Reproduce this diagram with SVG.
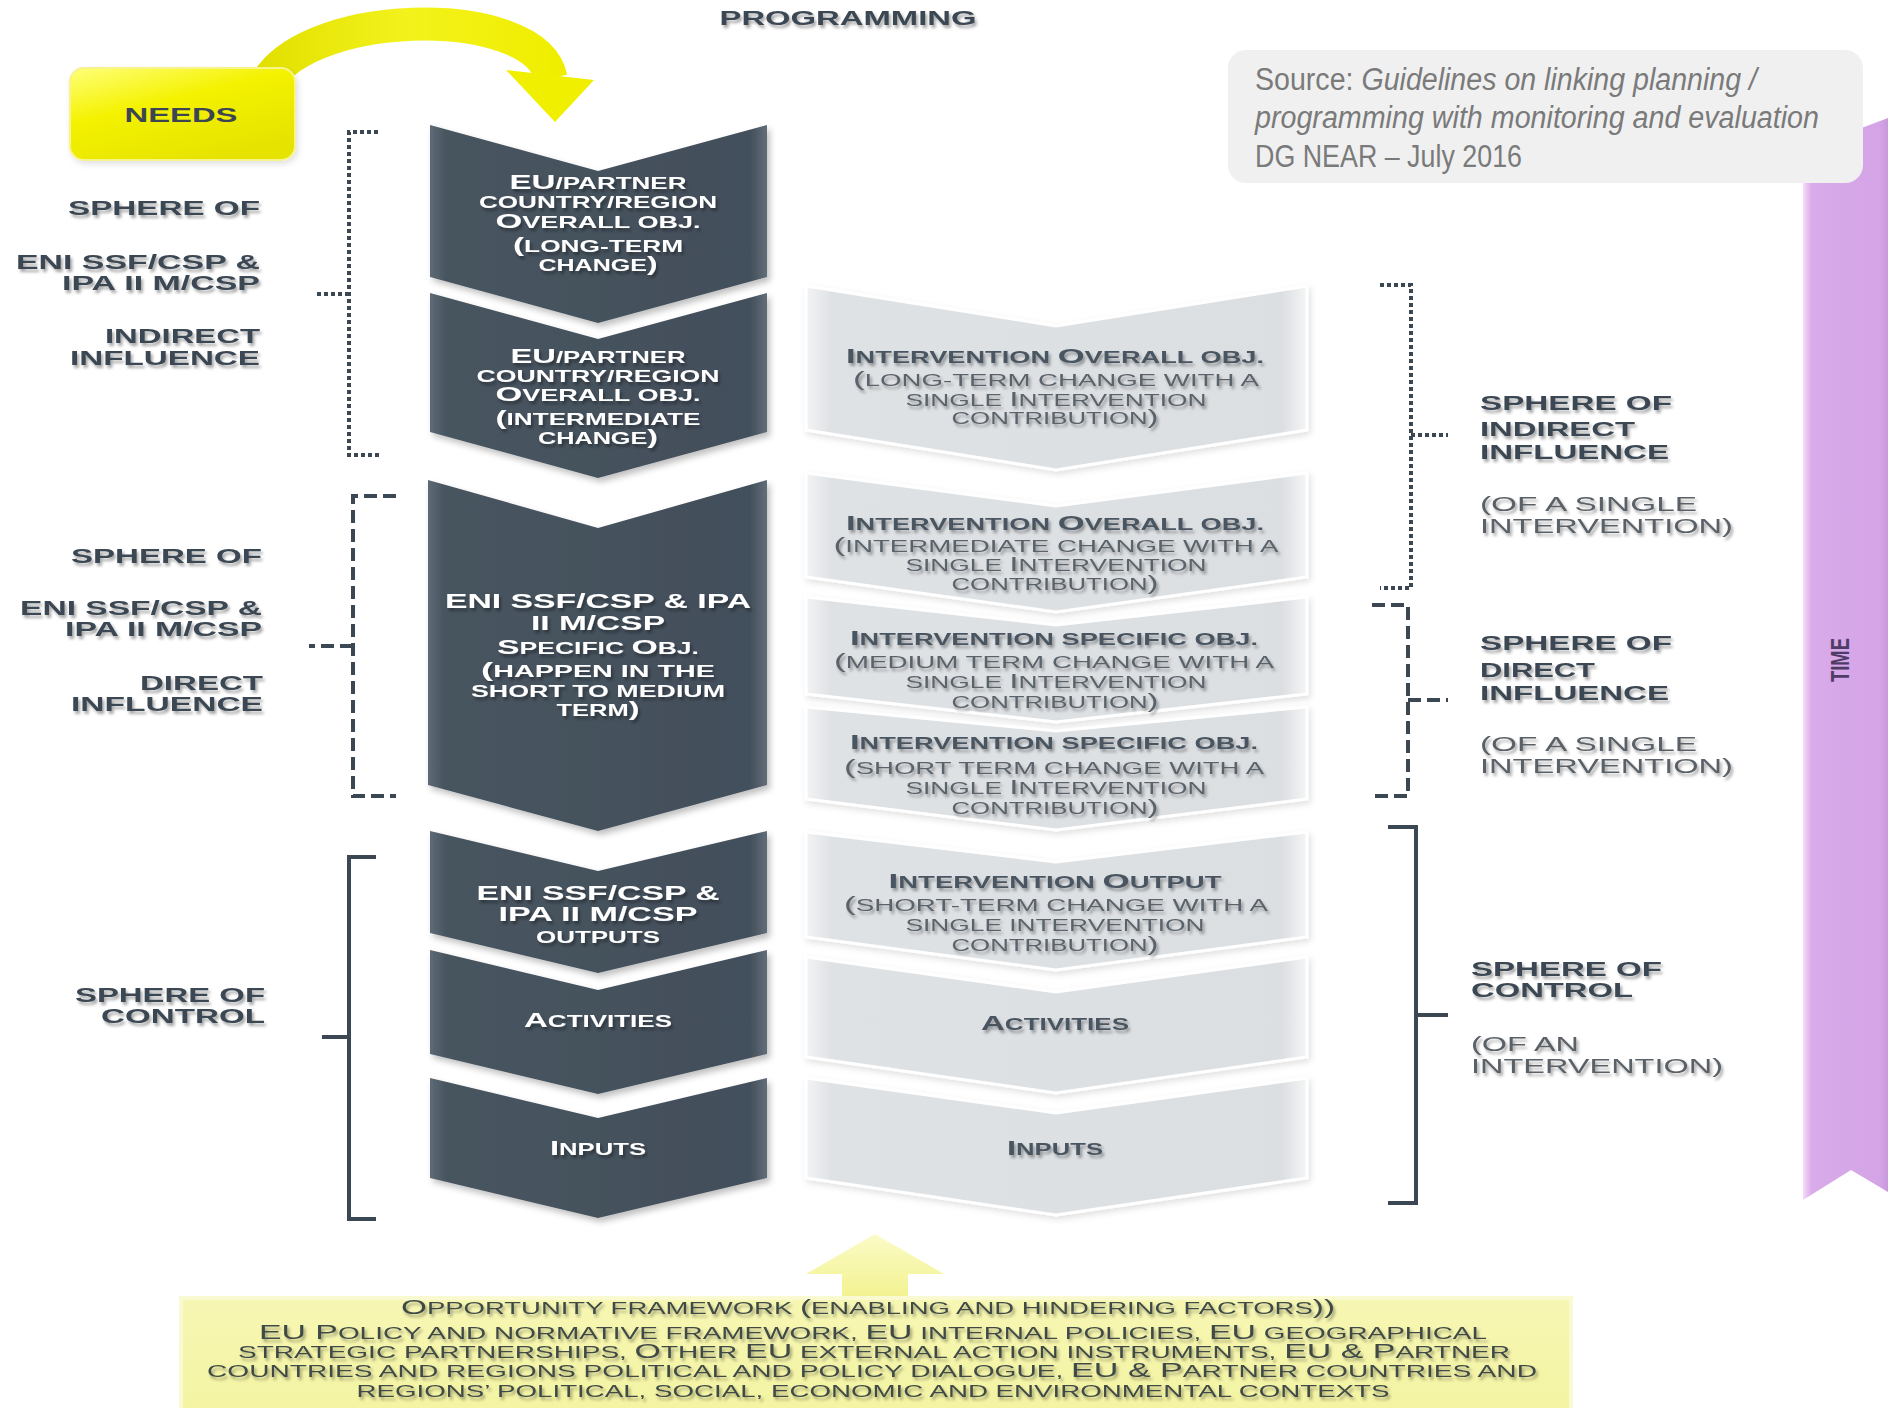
<svg xmlns="http://www.w3.org/2000/svg" width="1888" height="1408" viewBox="0 0 1888 1408">
<style>
text{font-family:"Liberation Sans",Arial,Helvetica,sans-serif;}
.lab{font-weight:bold;font-size:21px;fill:#3b4652;}
.lab.l{text-anchor:end;}
.par{font-weight:normal;font-size:21px;fill:#5a6167;}
.wt{font-weight:bold;font-size:21px;fill:#ffffff;text-anchor:middle;}
.lt{font-weight:bold;font-size:21px;fill:#4a5560;text-anchor:middle;}
.lr{font-weight:normal;font-size:21px;fill:#5a626a;text-anchor:middle;}
.bt{font-weight:normal;font-size:20px;fill:#3f4a45;text-anchor:middle;}
.s{font-size:16.5px;}
.dk{fill:url(#gDark);filter:url(#cs);}
.lg{fill:url(#gLight);stroke:#ffffff;stroke-width:3;filter:url(#cs2);}
.br{fill:none;stroke:#3b4753;stroke-width:4;}
.dot{stroke-dasharray:4 3;}
.dash{stroke-dasharray:13 6;}
</style>
<defs>
<linearGradient id="gDark" x1="0" y1="0" x2="1" y2="0">
<stop offset="0" stop-color="#5e6a76"/><stop offset="0.05" stop-color="#47545f"/><stop offset="0.95" stop-color="#434f5b"/><stop offset="1" stop-color="#626e79"/>
</linearGradient>
<linearGradient id="gLight" x1="0" y1="0" x2="1" y2="0">
<stop offset="0" stop-color="#f2f3f4"/><stop offset="0.05" stop-color="#dfe2e5"/><stop offset="0.95" stop-color="#dcdfe2"/><stop offset="1" stop-color="#f4f5f6"/>
</linearGradient>
<linearGradient id="gNeeds" x1="0" y1="0" x2="0.6" y2="1">
<stop offset="0" stop-color="#ffff7a"/><stop offset="0.45" stop-color="#f4f200"/><stop offset="1" stop-color="#e6e300"/>
</linearGradient>
<linearGradient id="gArc" x1="0" y1="0" x2="1" y2="0">
<stop offset="0" stop-color="#e2e000"/><stop offset="0.5" stop-color="#f3f21c"/><stop offset="1" stop-color="#f0ee00"/>
</linearGradient>
<linearGradient id="gOpp" x1="0" y1="0" x2="0" y2="1">
<stop offset="0" stop-color="#f7f7b4"/><stop offset="1" stop-color="#f3f3a0"/>
</linearGradient>
<linearGradient id="gUp" x1="0" y1="0" x2="0" y2="1">
<stop offset="0" stop-color="#fbfbc8"/><stop offset="1" stop-color="#f2f28e"/>
</linearGradient>
<linearGradient id="gTime" x1="0" y1="0" x2="1" y2="0">
<stop offset="0" stop-color="#f6dcf9"/><stop offset="0.1" stop-color="#d9abea"/><stop offset="0.9" stop-color="#d4a4e6"/><stop offset="1" stop-color="#c99adb"/>
</linearGradient>
<filter id="sh" x="-5%" y="-40%" width="110%" height="180%">
<feGaussianBlur in="SourceAlpha" stdDeviation="1.8"/><feOffset dx="2" dy="3" result="b"/>
<feFlood flood-color="#000" flood-opacity="0.35"/><feComposite in2="b" operator="in"/>
<feMerge><feMergeNode/><feMergeNode in="SourceGraphic"/></feMerge>
</filter>
<filter id="cs" x="-5%" y="-5%" width="112%" height="115%">
<feGaussianBlur in="SourceAlpha" stdDeviation="3"/><feOffset dx="3" dy="4" result="b"/>
<feFlood flood-color="#000" flood-opacity="0.25"/><feComposite in2="b" operator="in"/>
<feMerge><feMergeNode/><feMergeNode in="SourceGraphic"/></feMerge>
</filter>
<filter id="cs2" x="-5%" y="-5%" width="112%" height="115%">
<feGaussianBlur in="SourceAlpha" stdDeviation="3"/><feOffset dx="2" dy="3" result="b"/>
<feFlood flood-color="#000" flood-opacity="0.12"/><feComposite in2="b" operator="in"/>
<feMerge><feMergeNode/><feMergeNode in="SourceGraphic"/></feMerge>
</filter>
</defs>
<rect width="1888" height="1408" fill="#ffffff"/>

<!-- TIME bar -->
<g id="time">
<polygon points="1803,150 1888,118 1888,1192 1851,1170 1803,1200" fill="url(#gTime)"/>
<text transform="translate(1849,660) rotate(-90)" text-anchor="middle" font-weight="bold" font-size="25" fill="#4f3c66" textLength="44" lengthAdjust="spacingAndGlyphs">TIME</text>
</g>

<!-- Source box -->
<g id="source">
<rect x="1228" y="50" width="635" height="133" rx="18" fill="#f0f0f0"/>
<text x="1255" y="90" font-family="Roboto,'Liberation Sans',sans-serif" font-weight="300" font-size="31" fill="#7a7a7a" textLength="502" lengthAdjust="spacingAndGlyphs">Source: <tspan font-style="italic">Guidelines on linking planning /</tspan></text>
<text x="1255" y="128" font-family="Roboto,'Liberation Sans',sans-serif" font-weight="300" font-style="italic" font-size="31" fill="#7a7a7a" textLength="564" lengthAdjust="spacingAndGlyphs">programming with monitoring and evaluation</text>
<text x="1255" y="167" font-family="Roboto,'Liberation Sans',sans-serif" font-weight="300" font-size="31" fill="#7a7a7a" textLength="267" lengthAdjust="spacingAndGlyphs">DG NEAR – July 2016</text>
</g>

<!-- PROGRAMMING title -->
<text id="programming" class="lab" x="848" y="25" text-anchor="middle" fill="#4a4f55" filter="url(#sh)" textLength="257" lengthAdjust="spacingAndGlyphs">PROGRAMMING</text>

<!-- Connectors -->
<g id="connectors">
<path d="M 262 92 C 294 6, 536 2, 551 78" fill="none" stroke="url(#gArc)" stroke-width="33"/>
<polygon points="506,70 594,80 555,122" fill="#f1ef00"/>
<polygon points="806,1274 875,1234 944,1274 908,1274 908,1300 842,1300 842,1274" fill="url(#gUp)"/>
</g>

<!-- NEEDS -->
<g id="needs">
<rect x="70" y="68" width="225" height="92" rx="14" fill="url(#gNeeds)" filter="url(#cs2)" stroke="#f6f48a" stroke-width="2"/>
<text class="lab" x="181" y="122" text-anchor="middle" fill="#3e4a3c" textLength="113" lengthAdjust="spacingAndGlyphs">NEEDS</text>
</g>

<!-- Left labels -->
<g id="left-labels" filter="url(#sh)">
<text class="lab l" x="260" y="215" textLength="192" lengthAdjust="spacingAndGlyphs">SPHERE OF</text>
<text class="lab l" x="260" y="269" textLength="244" lengthAdjust="spacingAndGlyphs">ENI SSF/CSP &amp;</text>
<text class="lab l" x="260" y="290" textLength="198" lengthAdjust="spacingAndGlyphs">IPA II M/CSP</text>
<text class="lab l" x="260" y="343" textLength="155" lengthAdjust="spacingAndGlyphs">INDIRECT</text>
<text class="lab l" x="260" y="365" textLength="190" lengthAdjust="spacingAndGlyphs">INFLUENCE</text>

<text class="lab l" x="262" y="563" textLength="191" lengthAdjust="spacingAndGlyphs">SPHERE OF</text>
<text class="lab l" x="262" y="615" textLength="242" lengthAdjust="spacingAndGlyphs">ENI SSF/CSP &amp;</text>
<text class="lab l" x="262" y="636" textLength="197" lengthAdjust="spacingAndGlyphs">IPA II M/CSP</text>
<text class="lab l" x="263" y="690" textLength="123" lengthAdjust="spacingAndGlyphs">DIRECT</text>
<text class="lab l" x="263" y="711" textLength="192" lengthAdjust="spacingAndGlyphs">INFLUENCE</text>

<text class="lab l" x="265" y="1002" textLength="190" lengthAdjust="spacingAndGlyphs">SPHERE OF</text>
<text class="lab l" x="265" y="1023" textLength="164" lengthAdjust="spacingAndGlyphs">CONTROL</text>
</g>

<!-- Right labels -->
<g id="right-labels" filter="url(#sh)">
<text class="lab" x="1480" y="410" textLength="192" lengthAdjust="spacingAndGlyphs">SPHERE OF</text>
<text class="lab" x="1480" y="436" textLength="155" lengthAdjust="spacingAndGlyphs">INDIRECT</text>
<text class="lab" x="1480" y="459" textLength="189" lengthAdjust="spacingAndGlyphs">INFLUENCE</text>
<text class="par" x="1480" y="511" textLength="217" lengthAdjust="spacingAndGlyphs">(OF A SINGLE</text>
<text class="par" x="1480" y="533" textLength="253" lengthAdjust="spacingAndGlyphs">INTERVENTION)</text>

<text class="lab" x="1480" y="650" textLength="192" lengthAdjust="spacingAndGlyphs">SPHERE OF</text>
<text class="lab" x="1480" y="677" textLength="115" lengthAdjust="spacingAndGlyphs">DIRECT</text>
<text class="lab" x="1480" y="700" textLength="189" lengthAdjust="spacingAndGlyphs">INFLUENCE</text>
<text class="par" x="1480" y="751" textLength="217" lengthAdjust="spacingAndGlyphs">(OF A SINGLE</text>
<text class="par" x="1480" y="773" textLength="253" lengthAdjust="spacingAndGlyphs">INTERVENTION)</text>

<text class="lab" x="1471" y="976" textLength="191" lengthAdjust="spacingAndGlyphs">SPHERE OF</text>
<text class="lab" x="1471" y="997" textLength="162" lengthAdjust="spacingAndGlyphs">CONTROL</text>
<text class="par" x="1471" y="1051" textLength="108" lengthAdjust="spacingAndGlyphs">(OF AN</text>
<text class="par" x="1471" y="1073" textLength="252" lengthAdjust="spacingAndGlyphs">INTERVENTION)</text>
</g>

<!-- Brackets -->
<g id="brackets">
<path class="br dot" d="M 378 132 H 349 V 455 H 380"/>
<path class="br dot" d="M 349 294 H 316"/>
<path class="br dash" d="M 396 496 H 353 V 796 H 396"/>
<path class="br dash" d="M 353 646 H 309"/>
<path class="br" d="M 376 857 H 349 V 1219 H 376"/>
<path class="br" d="M 349 1037 H 322"/>
<path class="br dot" d="M 1380 285 H 1411 V 588 H 1380"/>
<path class="br dot" d="M 1411 435 H 1448"/>
<path class="br dash" d="M 1372 605 H 1408 V 796 H 1372"/>
<path class="br dash" d="M 1408 700 H 1448"/>
<path class="br" d="M 1388 827 H 1416 V 1203 H 1388"/>
<path class="br" d="M 1416 1015 H 1448"/>
</g>

<!-- Dark chevrons (programming) -->
<g id="c1">
<polygon class="dk" points="430,125 598,171 767,125 767,277 598,323 430,277"/>
<g filter="url(#sh)">
<text class="wt" x="598" y="189" textLength="177" lengthAdjust="spacingAndGlyphs">EU<tspan class="s">/PARTNER</tspan></text>
<text class="wt" x="598" y="208" textLength="238" lengthAdjust="spacingAndGlyphs"><tspan class="s">COUNTRY/REGION</tspan></text>
<text class="wt" x="598" y="228" textLength="205" lengthAdjust="spacingAndGlyphs">O<tspan class="s">VERALL OBJ.</tspan></text>
<text class="wt" x="598" y="252" textLength="170" lengthAdjust="spacingAndGlyphs">(<tspan class="s">LONG-TERM</tspan></text>
<text class="wt" x="598" y="271" textLength="119" lengthAdjust="spacingAndGlyphs"><tspan class="s">CHANGE</tspan>)</text>
</g>
</g>
<g id="c2">
<polygon class="dk" points="430,293 598,339 767,293 767,432 598,478 430,432"/>
<g filter="url(#sh)">
<text class="wt" x="598" y="363" textLength="175" lengthAdjust="spacingAndGlyphs">EU<tspan class="s">/PARTNER</tspan></text>
<text class="wt" x="598" y="382" textLength="243" lengthAdjust="spacingAndGlyphs"><tspan class="s">COUNTRY/REGION</tspan></text>
<text class="wt" x="598" y="401" textLength="205" lengthAdjust="spacingAndGlyphs">O<tspan class="s">VERALL OBJ.</tspan></text>
<text class="wt" x="598" y="425" textLength="205" lengthAdjust="spacingAndGlyphs">(<tspan class="s">INTERMEDIATE</tspan></text>
<text class="wt" x="598" y="444" textLength="120" lengthAdjust="spacingAndGlyphs"><tspan class="s">CHANGE</tspan>)</text>
</g>
</g>
<g id="c3">
<polygon class="dk" points="428,480 598,528 767,480 767,785 598,831 428,785"/>
<g filter="url(#sh)">
<text class="wt" x="598" y="608" textLength="306" lengthAdjust="spacingAndGlyphs">ENI SSF/CSP &amp; IPA</text>
<text class="wt" x="598" y="630" textLength="134" lengthAdjust="spacingAndGlyphs">II M/CSP</text>
<text class="wt" x="598" y="654" textLength="202" lengthAdjust="spacingAndGlyphs">S<tspan class="s">PECIFIC </tspan>O<tspan class="s">BJ.</tspan></text>
<text class="wt" x="598" y="677" textLength="234" lengthAdjust="spacingAndGlyphs">(<tspan class="s">HAPPEN IN THE</tspan></text>
<text class="wt" x="598" y="697" textLength="254" lengthAdjust="spacingAndGlyphs"><tspan class="s">SHORT TO MEDIUM</tspan></text>
<text class="wt" x="598" y="716" textLength="83" lengthAdjust="spacingAndGlyphs"><tspan class="s">TERM</tspan>)</text>
</g>
</g>
<g id="c4">
<polygon class="dk" points="430,831 598,871 767,831 767,933 598,973 430,933"/>
<g filter="url(#sh)">
<text class="wt" x="598" y="900" textLength="243" lengthAdjust="spacingAndGlyphs">ENI SSF/CSP &amp;</text>
<text class="wt" x="598" y="921" textLength="199" lengthAdjust="spacingAndGlyphs">IPA II M/CSP</text>
<text class="wt" x="598" y="943" textLength="124" lengthAdjust="spacingAndGlyphs"><tspan class="s">OUTPUTS</tspan></text>
</g>
</g>
<g id="c5">
<polygon class="dk" points="430,950 598,990 767,950 767,1054 598,1094 430,1054"/>
<text class="wt" x="598" y="1027" filter="url(#sh)" textLength="148" lengthAdjust="spacingAndGlyphs">A<tspan class="s">CTIVITIES</tspan></text>
</g>
<g id="c6">
<polygon class="dk" points="430,1078 598,1118 767,1078 767,1178 598,1218 430,1178"/>
<text class="wt" x="598" y="1155" filter="url(#sh)" textLength="96" lengthAdjust="spacingAndGlyphs">I<tspan class="s">NPUTS</tspan></text>
</g>

<!-- Light chevrons (intervention) -->
<g id="l1">
<polygon class="lg" points="806,286 1056,326 1307,286 1307,430 1056,470 806,430"/>
<g filter="url(#sh)">
<text class="lt" x="1055" y="363" textLength="418" lengthAdjust="spacingAndGlyphs">I<tspan class="s">NTERVENTION </tspan>O<tspan class="s">VERALL OBJ.</tspan></text>
<text class="lr" x="1056" y="386" textLength="406" lengthAdjust="spacingAndGlyphs">(<tspan class="s">LONG-TERM CHANGE WITH A</tspan></text>
<text class="lr" x="1056" y="406" textLength="301" lengthAdjust="spacingAndGlyphs"><tspan class="s">SINGLE </tspan>I<tspan class="s">NTERVENTION</tspan></text>
<text class="lr" x="1055" y="424" textLength="207" lengthAdjust="spacingAndGlyphs"><tspan class="s">CONTRIBUTION</tspan>)</text>
</g>
</g>
<g id="l2">
<polygon class="lg" points="806,473 1056,506 1307,473 1307,577 1056,612 806,577"/>
<g filter="url(#sh)">
<text class="lt" x="1055" y="530" textLength="418" lengthAdjust="spacingAndGlyphs">I<tspan class="s">NTERVENTION </tspan>O<tspan class="s">VERALL OBJ.</tspan></text>
<text class="lr" x="1056" y="552" textLength="445" lengthAdjust="spacingAndGlyphs">(<tspan class="s">INTERMEDIATE CHANGE WITH A</tspan></text>
<text class="lr" x="1056" y="571" textLength="301" lengthAdjust="spacingAndGlyphs"><tspan class="s">SINGLE </tspan>I<tspan class="s">NTERVENTION</tspan></text>
<text class="lr" x="1055" y="590" textLength="207" lengthAdjust="spacingAndGlyphs"><tspan class="s">CONTRIBUTION</tspan>)</text>
</g>
</g>
<g id="l3">
<polygon class="lg" points="806,597 1056,625 1307,597 1307,694 1056,722 806,694"/>
<g filter="url(#sh)">
<text class="lt" x="1054" y="645" textLength="408" lengthAdjust="spacingAndGlyphs">I<tspan class="s">NTERVENTION SPECIFIC OBJ.</tspan></text>
<text class="lr" x="1054" y="668" textLength="440" lengthAdjust="spacingAndGlyphs">(<tspan class="s">MEDIUM TERM CHANGE WITH A</tspan></text>
<text class="lr" x="1056" y="688" textLength="301" lengthAdjust="spacingAndGlyphs"><tspan class="s">SINGLE </tspan>I<tspan class="s">NTERVENTION</tspan></text>
<text class="lr" x="1055" y="708" textLength="207" lengthAdjust="spacingAndGlyphs"><tspan class="s">CONTRIBUTION</tspan>)</text>
</g>
</g>
<g id="l4">
<polygon class="lg" points="806,707 1056,731 1307,707 1307,799 1056,830 806,799"/>
<g filter="url(#sh)">
<text class="lt" x="1054" y="749" textLength="408" lengthAdjust="spacingAndGlyphs">I<tspan class="s">NTERVENTION SPECIFIC OBJ.</tspan></text>
<text class="lr" x="1054" y="774" textLength="420" lengthAdjust="spacingAndGlyphs">(<tspan class="s">SHORT TERM CHANGE WITH A</tspan></text>
<text class="lr" x="1056" y="794" textLength="301" lengthAdjust="spacingAndGlyphs"><tspan class="s">SINGLE </tspan>I<tspan class="s">NTERVENTION</tspan></text>
<text class="lr" x="1055" y="814" textLength="207" lengthAdjust="spacingAndGlyphs"><tspan class="s">CONTRIBUTION</tspan>)</text>
</g>
</g>
<g id="l5">
<polygon class="lg" points="806,832 1056,862 1307,832 1307,937 1056,970 806,937"/>
<g filter="url(#sh)">
<text class="lt" x="1055" y="888" textLength="333" lengthAdjust="spacingAndGlyphs">I<tspan class="s">NTERVENTION </tspan>O<tspan class="s">UTPUT</tspan></text>
<text class="lr" x="1056" y="911" textLength="424" lengthAdjust="spacingAndGlyphs">(<tspan class="s">SHORT-TERM CHANGE WITH A</tspan></text>
<text class="lr" x="1055" y="931" textLength="299" lengthAdjust="spacingAndGlyphs"><tspan class="s">SINGLE INTERVENTION</tspan></text>
<text class="lr" x="1055" y="951" textLength="207" lengthAdjust="spacingAndGlyphs"><tspan class="s">CONTRIBUTION</tspan>)</text>
</g>
</g>
<g id="l6">
<polygon class="lg" points="806,957 1056,992 1307,957 1307,1057 1056,1093 806,1057"/>
<text class="lt" x="1055" y="1030" filter="url(#sh)" textLength="148" lengthAdjust="spacingAndGlyphs">A<tspan class="s">CTIVITIES</tspan></text>
</g>
<g id="l7">
<polygon class="lg" points="806,1078 1056,1113 1307,1078 1307,1178 1056,1215 806,1178"/>
<text class="lt" x="1055" y="1155" filter="url(#sh)" textLength="96" lengthAdjust="spacingAndGlyphs">I<tspan class="s">NPUTS</tspan></text>
</g>

<!-- Opportunity framework -->
<g id="opportunity">
<rect x="181" y="1298" width="1390" height="130" fill="url(#gOpp)" stroke="#fafad2" stroke-width="4"/>
<g filter="url(#sh)">
<text class="bt" x="868" y="1314" textLength="934" lengthAdjust="spacingAndGlyphs">O<tspan class="s">PPORTUNITY FRAMEWORK </tspan>(<tspan class="s">ENABLING AND HINDERING FACTORS</tspan>))</text>
<text class="bt" x="873" y="1339" textLength="1228" lengthAdjust="spacingAndGlyphs">EU P<tspan class="s">OLICY AND NORMATIVE FRAMEWORK, </tspan>EU<tspan class="s"> INTERNAL POLICIES, </tspan>EU<tspan class="s"> GEOGRAPHICAL</tspan></text>
<text class="bt" x="874" y="1358" textLength="1272" lengthAdjust="spacingAndGlyphs"><tspan class="s">STRATEGIC PARTNERSHIPS, </tspan>O<tspan class="s">THER </tspan>EU<tspan class="s"> EXTERNAL ACTION INSTRUMENTS, </tspan>EU &amp; P<tspan class="s">ARTNER</tspan></text>
<text class="bt" x="872" y="1377" textLength="1330" lengthAdjust="spacingAndGlyphs"><tspan class="s">COUNTRIES AND REGIONS POLITICAL AND POLICY DIALOGUE, </tspan>EU &amp; P<tspan class="s">ARTNER COUNTRIES AND</tspan></text>
<text class="bt" x="873" y="1397" textLength="1033" lengthAdjust="spacingAndGlyphs"><tspan class="s">REGIONS’ POLITICAL, SOCIAL, ECONOMIC AND ENVIRONMENTAL CONTEXTS</tspan></text>
</g>
</g>
</svg>
